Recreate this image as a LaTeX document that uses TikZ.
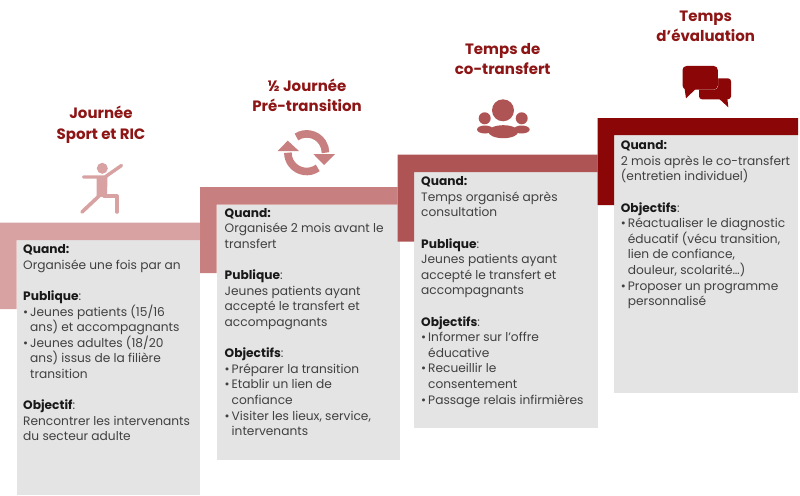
\documentclass[tikz,border=0pt]{standalone}
\usepackage{fontspec}
\setmainfont{Poppins}
\definecolor{stepa}{HTML}{D9A2A2}
\definecolor{stepb}{HTML}{C77F7F}
\definecolor{stepc}{HTML}{AE5454}
\definecolor{stepd}{HTML}{8B0606}
\definecolor{panel}{HTML}{E4E4E4}
\definecolor{titlered}{HTML}{8E1515}
\definecolor{bodytext}{HTML}{404040}
\newcommand{\hd}[1]{\textbf{\color{black!90}#1}}
\newcommand{\bul}{\makebox[7pt][l]{•}}
\newcommand{\ind}{\hspace*{7pt}}
\newcommand{\first}{\rule{0pt}{10pt}}
\tikzset{
  x=1pt,y=-1pt,
  stepfill/.style={fill=#1,draw=none},
  panelbox/.style={fill=panel,draw=none},
  bodyblock/.style={anchor=north west,inner sep=0pt,align=left,text=bodytext,font=\fontsize{12.2}{15.6}\selectfont},
  titleblock/.style={anchor=base,inner sep=0pt,align=center,text=titlered,font=\fontsize{15}{20.4}\selectfont\bfseries},
}
\begin{document}
\begin{tikzpicture}
\useasboundingbox (0,0) rectangle (800,495);
\fill[white] (0,0) rectangle (800,495);
% panels
\fill[panelbox] (16.7,240) rectangle (200,495);
\fill[panelbox] (216.5,204.7) rectangle (400,459.5);
\fill[panelbox] (414,172) rectangle (597.5,427.5);
\fill[panelbox] (614,135) rectangle (798,392.5);
% L-shaped steps
\fill[stepfill=stepa] (0,222.7) -- (200,222.7) -- (200,240) -- (16.7,240) -- (16.7,309) -- (0,309) -- cycle;
\fill[stepfill=stepb] (200,187) -- (397.5,187) -- (397.5,204.7) -- (216.5,204.7) -- (216.5,273) -- (200,273) -- cycle;
\fill[stepfill=stepc] (397.5,154.5) -- (597.5,154.5) -- (597.5,172) -- (414,172) -- (414,241.7) -- (397.5,241.7) -- cycle;
\fill[stepfill=stepd] (597.5,118) -- (798,118) -- (798,135) -- (614,135) -- (614,205) -- (597.5,205) -- cycle;
% titles
\node[titleblock] (ta) at (101,118.6) {Journée};
\node[titleblock] (tb) at (101,139.2) {Sport et RIC};
\node[titleblock] (tc) at (307,91.3) {½ Journée};
\node[titleblock] (td) at (307,111.3) {Pré-transition};
\node[titleblock] (te) at (502.7,54.6) {Temps de};
\node[titleblock] (tf) at (502.7,74.6) {co-transfert};
\node[titleblock] (tg) at (705.7,21.6) {Temps};
\node[titleblock] (th) at (705.7,41.9) {d’évaluation};
% runner icon
\fill[stepa] (102.3,168.3) circle (5.5);
\draw[stepa,line width=3.4pt,line cap=round,line join=round] (83.5,177) -- (105,177) -- (121.5,165.5);
\fill[stepa] (96.5,177) -- (107.5,177) -- (107,196) -- (96.5,197.5) -- cycle;
\draw[stepa,line width=3.6pt,line cap=round,line join=round] (99,196) -- (82,212);
\draw[stepa,line width=3.6pt,line cap=round,line join=round] (104,196) -- (116.7,196) -- (116.7,212);
% cycle icon
\draw[stepb,line width=7.6pt] (306.7,152.7) ++(-123:18.8) arc[start angle=-123,end angle=0,radius=18.8];
\fill[stepb] (313.3,154) -- (335,154) -- (324,165) -- cycle;
\draw[stepb,line width=7.6pt] (306.7,152.7) ++(54:18.8) arc[start angle=54,end angle=180,radius=18.8];
\fill[stepb] (277.7,151) -- (299,151) -- (287.7,140.7) -- cycle;
% people icon
\fill[stepc] (503,110.3) circle (11);
\fill[stepc] (484.7,118.3) circle (6);
\fill[stepc] (521.7,118.3) circle (6);
\fill[stepc] (485,129.5) ellipse (8 and 4);
\fill[stepc] (521.7,129.5) ellipse (8 and 4);
\fill[stepc] (503.3,131.7) ellipse (15 and 6.5);
% speech icon
\fill[stepd,rounded corners=3pt] (699,78.3) rectangle (731,99.3);
\fill[stepd] (718.3,98) -- (727.3,98) -- (728.3,107.3) -- cycle;
\draw[white,line width=0.5pt,rounded corners=4pt] (682.5,66) rectangle (717.8,89.5);
\fill[stepd,rounded corners=4pt] (682.5,66) rectangle (717.8,89.5);
\fill[stepd] (684.5,88) -- (696.7,88) -- (686,98.3) -- cycle;
% body texts
\node[bodyblock] (ba) at (23,243.4) {\first\hd{Quand:}\\
Organisée une fois par an\\[15.6pt]
\hd{Publique}:\\
\bul Jeunes patients (15/16\\
\ind ans) et accompagnants\\
\bul Jeunes adultes (18/20\\
\ind ans) issus de la filière\\
\ind transition\\[15.6pt]
\hd{Objectif}:\\
Rencontrer les intervenants\\
du secteur adulte};
\node[bodyblock] (bb) at (224.5,207.1) {\first\hd{Quand:}\\
Organisée 2 mois avant le\\
transfert\\[15.6pt]
\hd{Publique}:\\
Jeunes patients ayant\\
accepté le transfert et\\
accompagnants\\[15.6pt]
\hd{Objectifs}:\\
\bul Préparer la transition\\
\bul Etablir un lien de\\
\ind confiance\\
\bul Visiter les lieux, service,\\
\ind intervenants};
\node[bodyblock] (bc) at (421,175.4) {\first\hd{Quand:}\\
Temps organisé après\\
consultation\\[15.6pt]
\hd{Publique}:\\
Jeunes patients ayant\\
accepté le transfert et\\
accompagnants\\[15.6pt]
\hd{Objectifs}:\\
\bul Informer sur l’offre\\
\ind éducative\\
\bul Recueillir le\\
\ind consentement\\
\bul Passage relais infirmières};
\node[bodyblock] (bd) at (620.7,139.4) {\first\hd{Quand:}\\
2 mois après le co-transfert\\
(entretien individuel)\\[15.6pt]
\hd{Objectifs}:\\
\bul Réactualiser le diagnostic\\
\ind éducatif (vécu transition,\\
\ind lien de confiance,\\
\ind douleur, scolarité…)\\
\bul Proposer un programme\\
\ind personnalisé};
\end{tikzpicture}
\end{document}
